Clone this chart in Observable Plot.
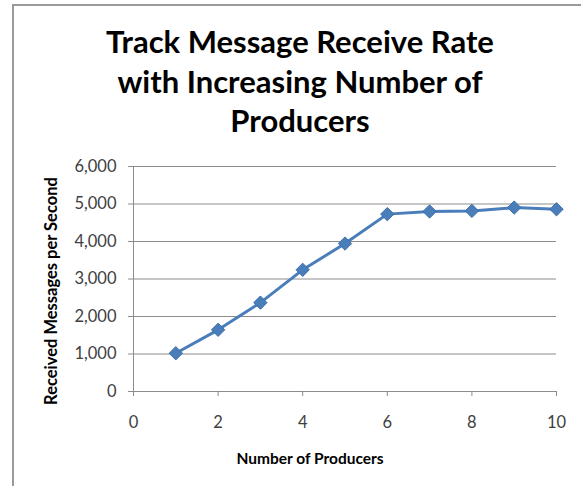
<!DOCTYPE html>
<html>
<head>
<meta charset="utf-8">
<script src="https://cdn.jsdelivr.net/npm/d3@7"></script>
<script src="https://cdn.jsdelivr.net/npm/@observablehq/plot@0.6"></script>
<style>
  html, body { margin: 0; padding: 0; background: #fff; }
  #wrap { position: relative; width: 581px; height: 486px; overflow: hidden; font-family: Lato, "Open Sans", sans-serif; }
  #frame { position: absolute; left: 12px; top: 4px; width: 600px; height: 600px; border-left: 2px solid #9a9a9a; border-top: 2px solid #9a9a9a; }
  #title { position: absolute; left: 0; width: 600px; top: 22px; text-align: center; font-weight: bold; font-size: 31px; line-height: 39.5px; color: #000; }
  #chart { position: absolute; left: 0; top: 0; }
  .alabel { position: absolute; font-weight: bold; color: #000; white-space: nowrap; }
  #xlabel { left: 310px; top: 458px; font-size: 15.5px; transform: translate(-50%, -50%); }
  #ylabel { left: 51px; top: 291px; font-size: 16.5px; transform: translate(-50%, -50%) rotate(-90deg); }
</style>
</head>
<body>
<div id="wrap">
  <div id="frame"></div>
  <div id="title">Track Message Receive Rate<br>with Increasing Number of<br>Producers</div>
  <div id="chart"></div>
  <div class="alabel" id="xlabel"></div>
  <div class="alabel" id="ylabel"></div>
</div>
<script>
const producers = [1, 2, 3, 4, 5, 6, 7, 8, 9, 10];
const rates = [1020, 1645, 2370, 3245, 3945, 4730, 4800, 4815, 4905, 4860];
const xTicks = [0, 2, 4, 6, 8, 10];
const yTicks = [0, 1000, 2000, 3000, 4000, 5000, 6000];
const xLabel = "Number of Producers";
const yLabel = "Received Messages per Second";

const data = producers.map((p, i) => ({producers: p, rate: rates[i]}));
const fmt = d3.format(",");

const chart = Plot.plot({
  width: 581,
  height: 486,
  marginLeft: 133,
  marginRight: 25,
  marginTop: 166,
  marginBottom: 95,
  style: {background: "transparent", fontFamily: "Lato, 'Open Sans', sans-serif", fontSize: "16.5px", color: "#404040"},
  x: {domain: [0, 10]},
  y: {domain: [0, 6000]},
  marks: [
    Plot.gridY(yTicks, {stroke: "#8c8c8c", strokeOpacity: 1, strokeWidth: 1}),
    Plot.ruleX([0], {stroke: "#8c8c8c"}),
    Plot.axisY({ticks: yTicks, tickFormat: fmt, tickSize: 5, tickPadding: 12, stroke: "#8c8c8c", fill: "#404040", label: null}),
    Plot.axisX({ticks: xTicks, tickSize: 5, tickPadding: 20, stroke: "#8c8c8c", fill: "#404040", label: null}),
    Plot.line(data, {x: "producers", y: "rate", stroke: "#4a7ebb", strokeWidth: 3}),
    Plot.dot(data, {x: "producers", y: "rate", symbol: "diamond2", r: 6, fill: "#4a7ebb", stroke: "#3e6ea8", strokeWidth: 1})
  ]
});
document.getElementById("chart").appendChild(chart);
document.getElementById("xlabel").textContent = xLabel;
document.getElementById("ylabel").textContent = yLabel;
</script>
</body>
</html>
